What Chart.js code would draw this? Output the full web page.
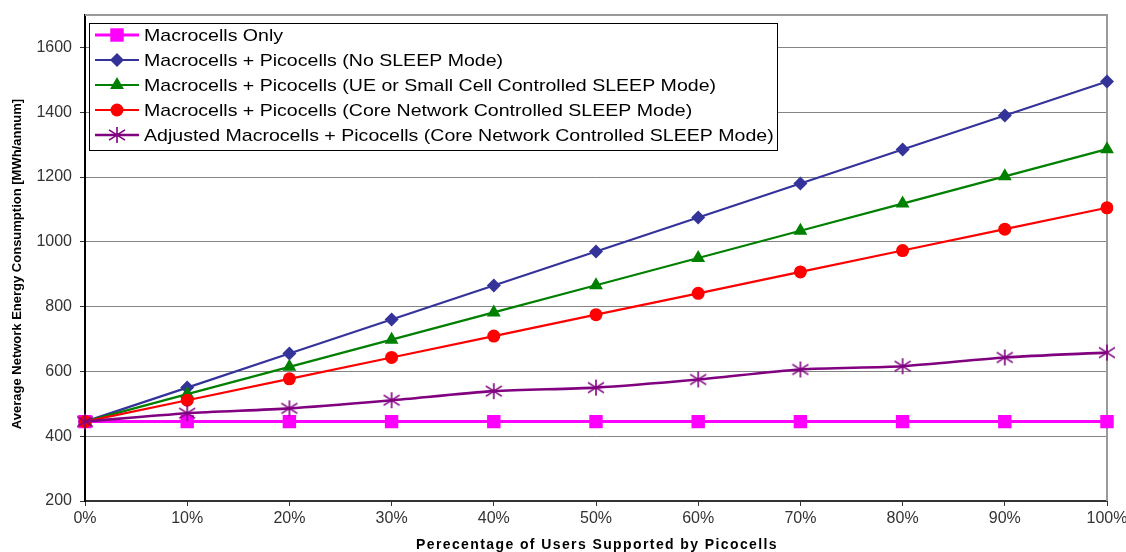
<!DOCTYPE html>
<html>
<head>
<meta charset="utf-8">
<script src="https://cdn.jsdelivr.net/npm/chart.js@4/dist/chart.umd.min.js"></script>
<style>
  html, body { margin: 0; padding: 0; background: #ffffff; }
  #wrap { width: 1126px; height: 552px; }
</style>
</head>
<body>
<div id="wrap"><canvas id="chart" width="1126" height="552"></canvas></div>
<script>
// Share of users carried by the picocell layer
const userShares = ['0%', '10%', '20%', '30%', '40%', '50%', '60%', '70%', '80%', '90%', '100%'];

// Average network energy consumption, MWh per annum
const macroOnly         = [445, 445, 445, 445, 445, 445, 445, 445, 445, 445, 445];
const picoNoSleep       = [445, 550, 655, 760, 865, 970, 1075, 1180, 1285, 1390, 1495];
const picoUeSleep       = [445, 530, 614, 698, 782, 866, 950, 1034, 1118, 1202, 1286];
const picoCoreSleep     = [445, 511, 577, 643, 709, 775, 841, 907, 973, 1039, 1105];
const adjustedCoreSleep = [445, 471, 486, 511, 539, 550, 575, 606, 616, 643, 658];

const seriesNames = [
  'Macrocells Only',
  'Macrocells + Picocells (No SLEEP Mode)',
  'Macrocells + Picocells (UE or Small Cell Controlled SLEEP Mode)',
  'Macrocells + Picocells (Core Network Controlled SLEEP Mode)',
  'Adjusted Macrocells + Picocells (Core Network Controlled SLEEP Mode)'
];
const seriesColors = ['#ff00ff', '#333399', '#008000', '#ff0000', '#800080'];

const energyTicks = [200, 400, 600, 800, 1000, 1200, 1400, 1600];
const energyMin = 200;
const energyMax = 1700;

const xTitle = 'Perecentage of Users Supported by Picocells';
const yTitle = 'Average Network Energy Consumption [MWh/annum]';

const FONT = "'Liberation Sans', Arial, sans-serif";

// Six-armed asterisk marker
function makeAsterisk(size, color) {
  const c = document.createElement('canvas');
  c.width = size + 2; c.height = size + 2;
  const g = c.getContext('2d');
  const cx = c.width / 2, cy = c.height / 2, r = size / 2;
  g.strokeStyle = color; g.lineWidth = 1.6;
  g.beginPath();
  g.moveTo(cx, cy - r); g.lineTo(cx, cy + r);
  g.moveTo(cx - r, cy - r * 0.65); g.lineTo(cx + r, cy + r * 0.65);
  g.moveTo(cx - r, cy + r * 0.65); g.lineTo(cx + r, cy - r * 0.65);
  g.stroke();
  return c;
}
const asterisk = makeAsterisk(16, seriesColors[4]);

const markerStyles = ['rect', 'rectRot', 'triangle', 'circle', asterisk];
const markerRadii = [9.5, 7, 8, 6.5, 8];
const lineWidths = [3, 2.2, 2.2, 2.2, 2.6];
const seriesValues = [macroOnly, picoNoSleep, picoUeSleep, picoCoreSleep, adjustedCoreSleep];

const datasets = seriesValues.map((vals, i) => ({
  label: seriesNames[i],
  data: vals,
  borderColor: seriesColors[i],
  backgroundColor: seriesColors[i],
  pointBackgroundColor: seriesColors[i],
  pointBorderColor: seriesColors[i],
  pointBorderWidth: 0,
  pointStyle: markerStyles[i],
  pointRadius: markerRadii[i],
  borderWidth: lineWidths[i],
  tension: i === 4 ? 0.25 : 0,
  order: seriesValues.length - i
}));

// Grey frame along the top and right of the plotting area
const frame = {
  id: 'frame',
  beforeDatasetsDraw(chart) {
    const { ctx, chartArea: a } = chart;
    ctx.save();
    ctx.strokeStyle = '#9a9a9a';
    ctx.lineWidth = 2;
    ctx.beginPath();
    ctx.moveTo(a.left, a.top);
    ctx.lineTo(a.right, a.top);
    ctx.lineTo(a.right, a.bottom);
    ctx.stroke();
    ctx.restore();
  }
};

// Axis titles
const axisTitles = {
  id: 'axisTitles',
  afterDraw(chart) {
    const { ctx, chartArea: a } = chart;
    ctx.save();
    ctx.fillStyle = '#000000';
    ctx.textAlign = 'center';
    ctx.textBaseline = 'middle';
    ctx.font = 'bold 14px ' + FONT;
    ctx.letterSpacing = '1.4px';
    ctx.fillText(xTitle, (a.left + a.right) / 2 + 1, 545);
    ctx.letterSpacing = '0px';
    ctx.font = 'bold 13px ' + FONT;
    ctx.translate(17, 264);
    ctx.rotate(-Math.PI / 2);
    ctx.fillText(yTitle, 0, 0);
    ctx.restore();
  }
};

// Boxed legend placed inside the plot, top-left
const boxedLegend = {
  id: 'boxedLegend',
  afterDraw(chart) {
    const { ctx } = chart;
    const x0 = 89, y0 = 23, w = 688, h = 127, rowH = 25;
    ctx.save();
    ctx.fillStyle = '#ffffff';
    ctx.fillRect(x0, y0, w, h);
    ctx.strokeStyle = '#000000';
    ctx.lineWidth = 1;
    ctx.strokeRect(x0 + 0.5, y0 + 0.5, w, h);
    chart.data.datasets.forEach((ds, i) => {
      const cy = y0 + 12 + i * rowH;
      ctx.strokeStyle = ds.borderColor;
      ctx.lineWidth = ds.borderWidth;
      ctx.beginPath();
      ctx.moveTo(95, cy);
      ctx.lineTo(139, cy);
      ctx.stroke();
      ctx.fillStyle = ds.backgroundColor;
      ctx.strokeStyle = ds.borderColor;
      Chart.helpers.drawPoint(ctx, {
        pointStyle: ds.pointStyle,
        radius: ds.pointRadius,
        borderWidth: 0,
        rotation: 0
      }, 117, cy);
      ctx.save();
      ctx.fillStyle = '#000000';
      ctx.font = '17px ' + FONT;
      ctx.textBaseline = 'middle';
      ctx.textAlign = 'left';
      ctx.translate(144, cy + 1);
      ctx.scale(1.15, 1);
      ctx.fillText(ds.label, 0, 0);
      ctx.restore();
    });
    ctx.restore();
  }
};

new Chart(document.getElementById('chart'), {
  type: 'line',
  data: { labels: userShares, datasets },
  options: {
    responsive: false,
    animation: false,
    devicePixelRatio: 1,
    layout: { padding: { top: 15, right: 19, bottom: 0, left: 0 } },
    plugins: { legend: { display: false }, tooltip: { enabled: false } },
    scales: {
      x: {
        type: 'category',
        offset: false,
        grid: { drawOnChartArea: false, drawTicks: true, tickLength: 5, tickColor: '#333333' },
        border: { display: true, color: '#333333', width: 2 },
        ticks: { font: { family: FONT, size: 16 }, color: '#333333', padding: 3, maxRotation: 0, autoSkip: false },
        afterFit(scale) {
          scale.height = 51;
          scale.paddingLeft = 0;
          scale.paddingRight = 0;
        }
      },
      y: {
        type: 'linear',
        min: energyMin,
        max: energyMax,
        afterBuildTicks(scale) { scale.ticks = energyTicks.map(v => ({ value: v })); },
        grid: { color: '#858585', lineWidth: 1, tickLength: 5, tickColor: '#333333' },
        border: { display: true, color: '#000000', width: 2 },
        ticks: {
          font: { family: FONT, size: 16 },
          color: '#333333',
          padding: 8,
          callback: (v) => String(v)
        },
        afterFit(scale) {
          scale.width = 85;
          scale.paddingTop = 0;
          scale.paddingBottom = 0;
        }
      }
    }
  },
  plugins: [frame, axisTitles, boxedLegend]
});
</script>
</body>
</html>
